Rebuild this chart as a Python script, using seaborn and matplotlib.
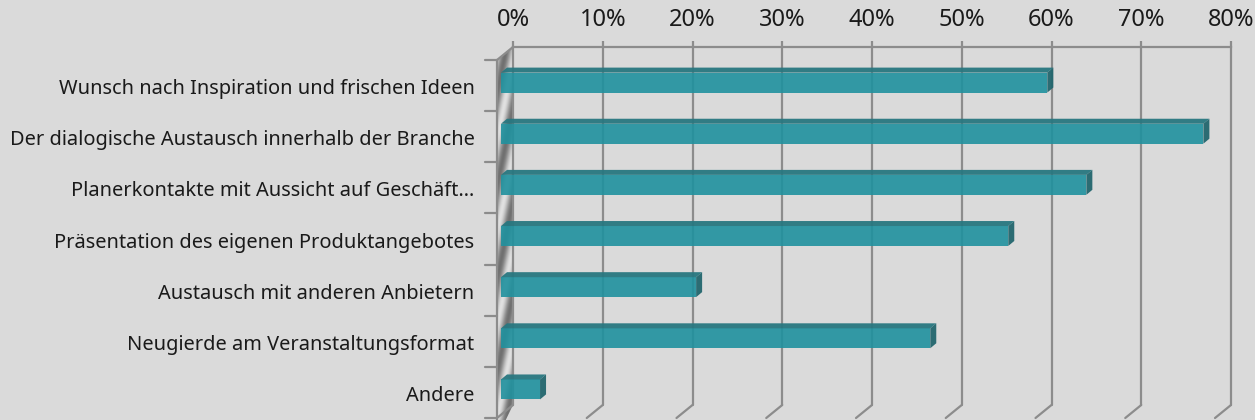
import numpy as np
import pandas as pd
import matplotlib
matplotlib.use("Agg")
import matplotlib.pyplot as plt
import seaborn as sns
from matplotlib.transforms import ScaledTranslation, IdentityTransform
from matplotlib.patches import Polygon
from matplotlib.lines import Line2D

# ---------------- data ----------------
categories = [
    "Wunsch nach Inspiration und frischen Ideen",
    "Der dialogische Austausch innerhalb der Branche",
    "Planerkontakte mit Aussicht auf Geschäft…",
    "Präsentation des eigenen Produktangebotes",
    "Austausch mit anderen Anbietern",
    "Neugierde am Veranstaltungsformat",
    "Andere",
]
values = [60.87, 78.26, 65.22, 56.52, 21.74, 47.83, 4.35]
x_ticks = [0, 10, 20, 30, 40, 50, 60, 70, 80]
x_tick_labels = ["0%", "10%", "20%", "30%", "40%", "50%", "60%", "70%", "80%"]

# ---------------- style ----------------
sns.set_theme(style="white")
plt.rcParams["font.family"] = ["Noto Sans", "DejaVu Sans"]

W, H = 1255, 420
BG = "#dadada"
GRID = "#8c8c8c"
FRONT = "#20919e"
TOP = "#287780"
SIDE = "#22666e"
TEXT = "#1a1a1a"

fig = plt.figure(figsize=(W / 100, H / 100), dpi=100, facecolor=BG)


def rect(l, t, r, b):
    return [l / W, 1 - b / H, (r - l) / W, (b - t) / H]


L, R, T, B = 501, 1219, 57, 415   # bar (front) plane
BACK = (12, 10)                     # back plane offset, px (right, up)
WALL = (-4, -3)                     # wall front offset, px
BAR_DEPTH = (6, 5)

# ---------------- back plane: grid + top ticks ----------------
ax_back = fig.add_axes(rect(L + BACK[0], T - BACK[1], R + BACK[0], B - BACK[1]))
ax_back.set_zorder(0)
ax_back.set_xlim(0, 80)
ax_back.set_ylim(0, 1)
ax_back.patch.set_alpha(0)
for s in ["left", "right", "bottom"]:
    ax_back.spines[s].set_visible(False)
ax_back.spines["top"].set_color(GRID)
ax_back.spines["top"].set_linewidth(1.6)
ax_back.xaxis.tick_top()
ax_back.set_xticks(x_ticks)
ax_back.set_xticklabels(x_tick_labels, fontsize=17, color=TEXT)
ax_back.tick_params(axis="x", length=4.5, width=1.6, color=GRID, pad=6)
ax_back.set_yticks([])
for t in x_ticks:
    ax_back.axvline(t, color=GRID, lw=1.6, clip_on=False)

# ---------------- front plane: bars ----------------
ax = fig.add_axes(rect(L, T, R, B))
ax.set_zorder(2)
ax.patch.set_alpha(0)
df = pd.DataFrame({"category": categories, "value": values})
sns.barplot(data=df, x="value", y="category", orient="h", color=FRONT,
            saturation=1, width=0.39, alpha=0.9, linewidth=0, edgecolor="none", ax=ax)
ax.set_xlim(0, 80)
ax.set_ylim(len(categories) - 0.5, -0.5)
for s in ax.spines.values():
    s.set_visible(False)
ax.set_xticks([])
ax.set_xlabel("")
ax.set_ylabel("")
ax.set_yticks(range(len(categories)))
ax.set_yticklabels(categories, fontsize=14.4, color=TEXT)
ax.tick_params(axis="y", length=0, pad=19)
for lbl in ax.get_yticklabels():
    lbl.set_transform(lbl.get_transform() + ScaledTranslation(0, -0.04, fig.dpi_scale_trans))

idt = IdentityTransform()

# ---------------- wall (left side panel) ----------------
back_tl = ax_back.transAxes.transform((0, 1))
back_bl = ax_back.transAxes.transform((0, 0))
front_tl = ax.transAxes.transform((0, 1)) + np.array(WALL)
wall_poly = np.array([back_tl, back_bl,
                      back_bl + (front_tl - back_tl) - np.array([0, 20]), front_tl])

xmin, ymin = wall_poly.min(axis=0)
xmax, ymax = wall_poly.max(axis=0)
ax_wall = fig.add_axes([xmin / W, ymin / H, (xmax - xmin) / W, (ymax - ymin) / H])
ax_wall.set_zorder(-1)
ax_wall.set_axis_off()
gy, gx = np.mgrid[0:400, 0:40]
shade = 0.66 + 0.22 * np.cos(2 * np.pi * (gy * 1.0 + gx * 2.0) / 95.0)
ax_wall.imshow(shade, cmap="gray", vmin=0, vmax=1, aspect="auto",
               extent=(0, 1, 0, 1), origin="upper")
ax_wall.set_xlim(0, 1)
ax_wall.set_ylim(0, 1)
clip = Polygon(wall_poly, closed=True, transform=idt)
ax_wall.images[0].set_clip_path(clip)

# wall outline
fig.add_artist(Line2D([back_tl[0], front_tl[0]], [back_tl[1], front_tl[1]],
                      transform=idt, color=GRID, lw=1.6, zorder=0.5))
fig.add_artist(Line2D([front_tl[0], front_tl[0]], [front_tl[1], front_tl[1] - 400],
                      transform=idt, color=GRID, lw=1.6, zorder=0.5))

# bottom slants of gridlines
for t in x_ticks:
    p = ax_back.transData.transform((t, 0))
    q = p + np.array(WALL) - np.array(BACK)
    fig.add_artist(Line2D([p[0], q[0]], [p[1], q[1]], transform=idt, color=GRID, lw=1.6, zorder=0.5))

# category tick marks on wall front
for k in range(len(categories) + 1):
    p = ax.transData.transform((0, k - 0.5)) + np.array(WALL)
    fig.add_artist(Line2D([p[0] - 12, p[0]], [p[1], p[1]], transform=idt, color=GRID, lw=1.6, zorder=0.5))

# ---------------- 3D faces of bars ----------------
dx, dy = BAR_DEPTH
for patch in ax.patches:
    bb = patch.get_window_extent()
    top = [(bb.x0, bb.y1), (bb.x1, bb.y1), (bb.x1 + dx, bb.y1 + dy), (bb.x0 + dx, bb.y1 + dy)]
    side = [(bb.x1, bb.y0), (bb.x1, bb.y1), (bb.x1 + dx, bb.y1 + dy), (bb.x1 + dx, bb.y0 + dy)]
    fig.add_artist(Polygon(top, closed=True, transform=idt, facecolor=TOP, edgecolor="none",
                           alpha=0.95, zorder=3))
    fig.add_artist(Polygon(side, closed=True, transform=idt, facecolor=SIDE, edgecolor="none",
                           alpha=0.95, zorder=3))

fig.savefig("out.png", dpi=100, facecolor=BG)
